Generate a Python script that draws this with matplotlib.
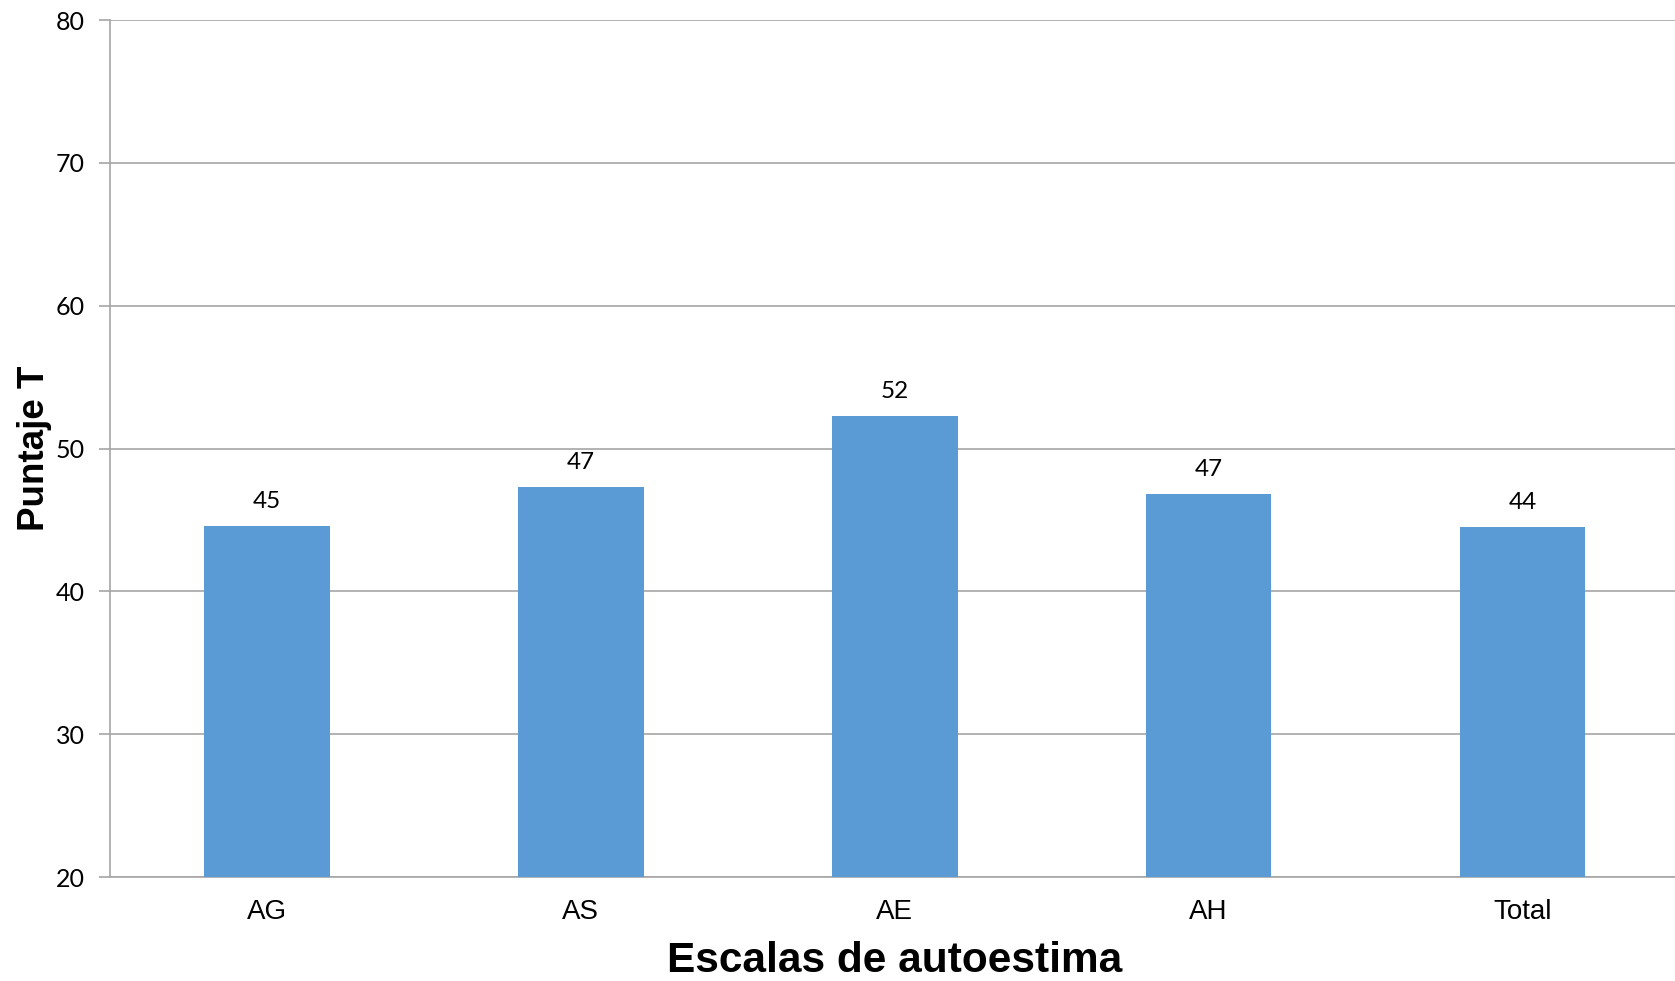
import matplotlib.pyplot as plt
import numpy as np

categories = ['AG', 'AS', 'AE', 'AH', 'Total']
values = [44.6, 47.3, 52.3, 46.8, 44.5]
labels = ['45', '47', '52', '47', '44']

fig = plt.figure(figsize=(16.75, 9.81), dpi=100)
ax = fig.add_axes([0.0657, 0.106, 0.937, 0.8735])

x = np.arange(len(categories))
bars = ax.bar(x, values, width=0.4, color='#5B9BD5', zorder=3)

for xi, v, lab in zip(x, values, labels):
    ax.annotate(lab, (xi, v), xytext=(0, 10), textcoords='offset points',
                ha='center', va='bottom', fontsize=17.5, family='Lato')

ax.set_ylim(20, 80)
ax.set_xlim(-0.5, len(categories) - 0.5)
ax.set_yticks(range(20, 81, 10))
ax.yaxis.grid(True, color='#A6A6A6', linewidth=1.2, zorder=0)
ax.set_xticks(x)
ax.set_xticklabels(categories, fontsize=20, family='Liberation Sans')
for t in ax.get_yticklabels():
    t.set_family('Lato')
    t.set_fontsize(18)

for s in ['top', 'right']:
    ax.spines[s].set_visible(False)
for s in ['left', 'bottom']:
    ax.spines[s].set_color('#A6A6A6')
    ax.spines[s].set_linewidth(1.2)
ax.tick_params(axis='y', length=8, color='#A6A6A6', width=1.2, pad=10)
ax.tick_params(axis='x', length=0, pad=16)

ax.set_xlabel('Escalas de autoestima', fontsize=30.5, fontweight='bold',
              family='Liberation Sans', labelpad=11)
ax.set_ylabel('Puntaje T', fontsize=26.5, fontweight='bold',
              family='Liberation Sans', labelpad=3)

fig.savefig('out.png', dpi=100)
